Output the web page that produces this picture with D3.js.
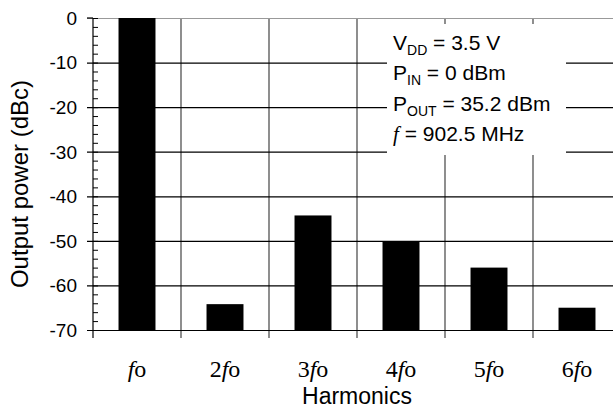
<!DOCTYPE html>
<html>
<head>
<meta charset="utf-8">
<script src="https://cdn.jsdelivr.net/npm/d3@7"></script>
<style>
  body { margin: 0; background: #fff; }
  svg { display: block; }
  text { font-family: Arial, "Liberation Sans", sans-serif; fill: #000; }
  .serif { font-family: "Times New Roman", "Liberation Serif", serif; }
</style>
</head>
<body>
<script>
// data
var harmonics = ["1", "2", "3", "4", "5", "6"];   // multiple of fo ("1" is shown as plain fo)
var powerDbc = [0, -64.2, -44.3, -50.2, -56.0, -65.0];
var yTicks = [0, -10, -20, -30, -40, -50, -60, -70];
var yMinorTicks = d3.range(-70, 1, 2);
var notes = [
  {main: "V", sub: "DD", rest: " = 3.5 V"},
  {main: "P", sub: "IN", rest: " = 0 dBm"},
  {main: "P", sub: "OUT", rest: " = 35.2 dBm"},
  {main: "f", sub: "", rest: " = 902.5 MHz"}
];

var W = 613, H = 410;
// plot edges (the right edge runs past the picture, as in the original)
var pl = 93, pr = 621, pt = 18, pb = 330, tickBottom = 338;

var svg = d3.select("body").append("svg")
    .attr("width", W)
    .attr("height", H);

var x = d3.scaleBand().domain(harmonics).range([pl, pr]);
var y = d3.scaleLinear().domain([-70, 0]).range([pb, pt]);

// vertical grid lines at category borders (running down past the axis as ticks)
var borders = harmonics.slice(1).map(function (h) { return x(h); });
svg.append("g").selectAll("line")
    .data(borders)
    .enter().append("line")
    .attr("x1", function (d) { return d; })
    .attr("x2", function (d) { return d; })
    .attr("y1", pt)
    .attr("y2", tickBottom)
    .attr("stroke", "#444")
    .attr("stroke-width", 1.2);

// horizontal grid lines (with major ticks to the left of the axis)
var grid = d3.axisRight(y)
    .tickValues(yTicks)
    .tickSize(pr - pl + 6)
    .tickFormat("");
svg.append("g")
    .attr("transform", "translate(" + (pl - 6) + ",0)")
    .call(grid)
    .call(function (g) { g.select(".domain").remove(); })
    .call(function (g) {
        g.selectAll(".tick line")
            .attr("stroke", function (d) { return d === 0 ? "#999" : "#000"; })
            .attr("stroke-width", 1.2);
    });
// black tick stub at 0
svg.append("line")
    .attr("x1", pl - 6).attr("x2", pl)
    .attr("y1", y(0)).attr("y2", y(0))
    .attr("stroke", "#000").attr("stroke-width", 1.2);

// minor ticks inside the axis
svg.append("g")
    .attr("transform", "translate(" + pl + ",0)")
    .call(d3.axisRight(y).tickValues(yMinorTicks).tickSize(5).tickFormat(""))
    .call(function (g) { g.select(".domain").remove(); })
    .call(function (g) { g.selectAll(".tick line").attr("stroke", "#000"); });

// bars, from the -70 floor
var barW = x.bandwidth() * 0.42;
svg.append("g").selectAll("rect")
    .data(harmonics)
    .enter().append("rect")
    .attr("x", function (d) { return x(d) + (x.bandwidth() - barW) / 2; })
    .attr("y", function (d, i) { return y(powerDbc[i]); })
    .attr("width", barW)
    .attr("height", function (d, i) { return y(-70) - y(powerDbc[i]); })
    .attr("fill", "#000");

// left axis line
svg.append("line")
    .attr("x1", pl).attr("x2", pl)
    .attr("y1", pt).attr("y2", tickBottom)
    .attr("stroke", "#000").attr("stroke-width", 1.2);

// y tick labels
svg.append("g").selectAll("text")
    .data(yTicks)
    .enter().append("text")
    .attr("x", 77)
    .attr("y", function (d) { return y(d); })
    .attr("dy", "0.36em")
    .attr("text-anchor", "end")
    .style("font-size", "19px")
    .text(function (d) { return d; });

// x category labels: n·fo with italic f
var cat = svg.append("g").selectAll("text")
    .data(harmonics)
    .enter().append("text")
    .attr("class", "serif")
    .attr("x", function (d) { return x(d) + x.bandwidth() / 2; })
    .attr("y", 377)
    .attr("text-anchor", "middle")
    .style("font-size", "24px");
cat.append("tspan").text(function (d) { return d === "1" ? "" : d; });
cat.append("tspan").style("font-style", "italic").text("f");
cat.append("tspan").text("o");

// axis titles
svg.append("text")
    .attr("x", (pl + pr) / 2)
    .attr("y", 404)
    .attr("text-anchor", "middle")
    .style("font-size", "23px")
    .text("Harmonics");

svg.append("text")
    .attr("transform", "translate(28,184) rotate(-90)")
    .attr("text-anchor", "middle")
    .style("font-size", "24px")
    .text("Output power (dBc)");

// annotation box
svg.append("rect")
    .attr("x", 387).attr("y", 24)
    .attr("width", 179).attr("height", 131)
    .attr("fill", "#fff");

var note = svg.append("g").selectAll("text")
    .data(notes)
    .enter().append("text")
    .attr("x", 393)
    .attr("y", function (d, i) { return 50 + i * 30.3; })
    .style("font-size", "21px");
note.append("tspan")
    .attr("class", function (d) { return d.sub ? null : "serif"; })
    .style("font-style", function (d) { return d.sub ? null : "italic"; })
    .text(function (d) { return d.main; });
note.append("tspan")
    .attr("dy", 5)
    .style("font-size", "14px")
    .text(function (d) { return d.sub; });
note.append("tspan")
    .attr("dy", function (d) { return d.sub ? -5 : 0; })
    .text(function (d) { return d.rest; });
</script>
</body>
</html>
